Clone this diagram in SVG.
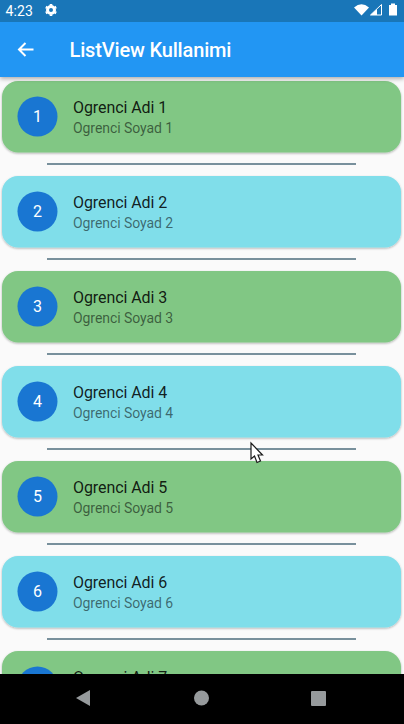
<svg xmlns="http://www.w3.org/2000/svg" width="404" height="724" viewBox="0 0 404 724">
<style>
text{font-family:Roboto,"Liberation Sans",sans-serif}
.g{fill:#81c784}.c{fill:#80deea}
.card{filter:url(#s)}
.av{fill:#1976d2}
.n{font-size:16px;fill:#fff;text-anchor:middle}
.t{font-size:16px;fill:rgba(0,0,0,.87);letter-spacing:-.08px}
.u{font-size:14px;fill:rgba(0,0,0,.54);letter-spacing:-.07px}
.d{fill:none;stroke:#78909c;stroke-width:2.200}
.nav{fill:#969a9c}
</style>
<defs>
<filter id="s" x="-5%" y="-10%" width="110%" height="125%"><feDropShadow dx="0" dy="1" stdDeviation="1" flood-color="#000" flood-opacity=".3"/></filter>
<filter id="b" x="-5%" y="-20%" width="110%" height="150%"><feDropShadow dx="0" dy="2" stdDeviation="2" flood-color="#000" flood-opacity=".3"/></filter>
</defs>
<rect width="404" height="724" fill="#fafafa"/>
<g id="item1"><rect class="g card" x="2" y="81" width="399" height="71.500" rx="16"/><circle class="av" cx="37.500" cy="116.500" r="20"/><text class="n" x="37.500" y="122">1</text><text class="t" x="73" y="113">Ogrenci Adi 1</text><text class="u" x="73" y="133">Ogrenci Soyad 1</text></g>
<g id="item2"><rect class="c card" x="2" y="176" width="399" height="71.500" rx="16"/><circle class="av" cx="37.500" cy="211.500" r="20"/><text class="n" x="37.500" y="217">2</text><text class="t" x="73" y="208">Ogrenci Adi 2</text><text class="u" x="73" y="228">Ogrenci Soyad 2</text></g>
<g id="item3"><rect class="g card" x="2" y="271" width="399" height="71.500" rx="16"/><circle class="av" cx="37.500" cy="306.500" r="20"/><text class="n" x="37.500" y="312">3</text><text class="t" x="73" y="303">Ogrenci Adi 3</text><text class="u" x="73" y="323">Ogrenci Soyad 3</text></g>
<g id="item4"><rect class="c card" x="2" y="366" width="399" height="71.500" rx="16"/><circle class="av" cx="37.500" cy="401.500" r="20"/><text class="n" x="37.500" y="407">4</text><text class="t" x="73" y="398">Ogrenci Adi 4</text><text class="u" x="73" y="418">Ogrenci Soyad 4</text></g>
<g id="item5"><rect class="g card" x="2" y="461" width="399" height="71.500" rx="16"/><circle class="av" cx="37.500" cy="496.500" r="20"/><text class="n" x="37.500" y="502">5</text><text class="t" x="73" y="493">Ogrenci Adi 5</text><text class="u" x="73" y="513">Ogrenci Soyad 5</text></g>
<g id="item6"><rect class="c card" x="2" y="556" width="399" height="71.500" rx="16"/><circle class="av" cx="37.500" cy="591.500" r="20"/><text class="n" x="37.500" y="597">6</text><text class="t" x="73" y="588">Ogrenci Adi 6</text><text class="u" x="73" y="608">Ogrenci Soyad 6</text></g>
<g id="item7"><rect class="g card" x="2" y="651" width="399" height="71.500" rx="16"/><circle class="av" cx="37.500" cy="686.500" r="20"/><text class="t" x="73" y="683">Ogrenci Adi 7</text></g>
<g id="dividers">
<path class="d" d="M47 164H356M47 259H356M47 354H356M47 449H356M47 544H356M47 639H356"/>
</g>
<g id="appbar">
<rect y="22" width="404" height="55" fill="#2196f3" filter="url(#b)"/>
<path d="M33.500 49.500H19.500M25.500 43L19 49.500L25.500 56" fill="none" stroke="#fff" stroke-width="2"/>
<text x="69.500" y="57" font-size="20" font-weight="500" fill="#fff" letter-spacing="-.16">ListView Kullanimi</text>
</g>
<g id="statusbar">
<rect width="404" height="22" fill="#1976b8"/>
<text x="5.500" y="16" font-size="14" fill="#fff" letter-spacing=".1">4:23</text>
<circle cx="51" cy="10" r="3.500" fill="none" stroke="#fff" stroke-width="3"/>
<path d="M51 4V5.500M51 14.500V16M45.800 7L47.100 7.700M54.900 12.300L56.200 13M45.800 13L47.100 12.300M54.900 7.700L56.200 7" stroke="#fff" stroke-width="2.600"/>
<path d="M354 7.500Q361.500 1 369 7.500L361.500 15.500Z" fill="#fff"/>
<path d="M381.500 15H370.500L381.500 4.500Z" fill="none" stroke="#fff" stroke-width="1"/>
<path d="M370.500 15H377V9Z" fill="#fff"/>
<path d="M389 5H391V3.500H395V5H397V15.500H389Z" fill="#fff"/>
</g>
<g id="navbar">
<rect y="674" width="404" height="50" fill="#000"/>
<path class="nav" d="M76 698L90 690V706Z"/>
<circle class="nav" cx="201.500" cy="698" r="7.500"/>
<rect class="nav" x="311" y="691" width="15" height="15" rx="1"/>
</g>
<g id="cursor">
<path d="M251 443V459L254.500 456L257 462.500L260.500 461L258 455H262.500Z" fill="#fff" stroke="#1a1a1a" stroke-width="1.200"/>
</g>
</svg>
